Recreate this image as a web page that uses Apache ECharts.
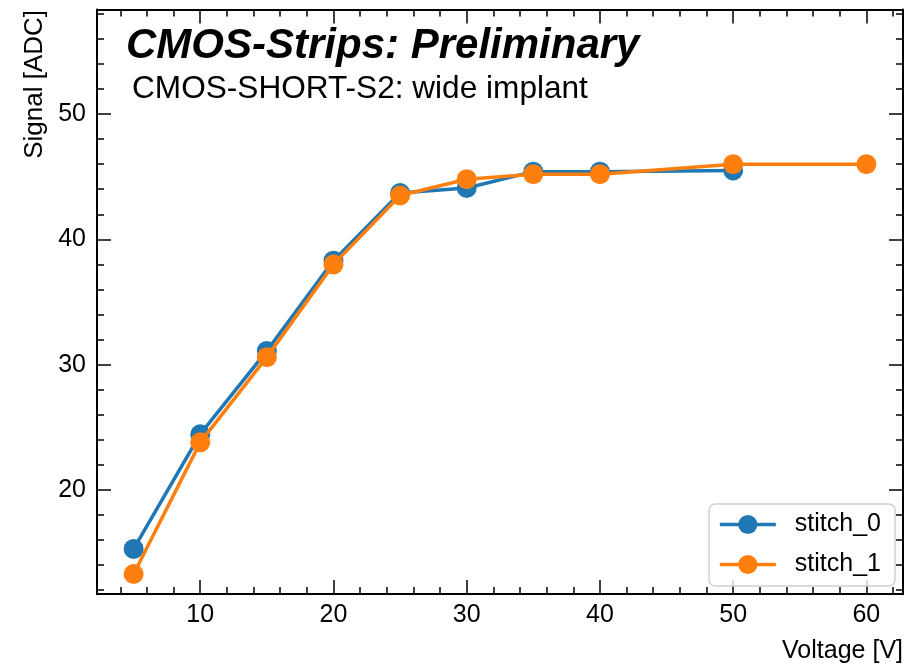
<!DOCTYPE html>
<html>
<head>
<meta charset="utf-8">
<script src="https://cdn.jsdelivr.net/npm/echarts@6/dist/echarts.min.js"></script>
<style>
html,body{margin:0;padding:0;background:#fff;}
#chart{width:914px;height:665px;}
</style>
</head>
<body>
<div id="chart"></div>
<script>
// ---- data ----
var voltages0 = [5, 10, 15, 20, 25, 30, 35, 40, 50];
var stitch0 = [15.3, 24.45, 31.1, 38.3, 43.7, 44.1, 45.4, 45.4, 45.5];
var voltages1 = [5, 10, 15, 20, 25, 30, 35, 40, 50, 60];
var stitch1 = [13.3, 23.8, 30.6, 38.0, 43.5, 44.8, 45.2, 45.2, 46.0, 46.0];
var seriesNames = ['stitch_0', 'stitch_1'];
var titleText = 'CMOS-Strips: Preliminary';
var subtitleText = 'CMOS-SHORT-S2: wide implant';
var xTitle = 'Voltage [V]';
var yTitle = 'Signal [ADC]';

var FONT = '"Liberation Sans", Arial, Helvetica, sans-serif';
var xMin = 2.25, xMax = 62.75, yMin = 11.7, yMax = 58.34;

function pairs(xs, ys) { return xs.map(function (x, i) { return [x, ys[i]]; }); }

function mkX(pos, major, withLabel) {
  return {
    type: 'value', position: pos, min: xMin, max: xMax,
    minInterval: major ? 10 : 2, maxInterval: major ? 10 : 2,
    splitNumber: major ? 6 : 30,
    axisLine: { show: major, onZero: false, lineStyle: { color: '#000', width: 2 } },
    axisTick: { show: true, inside: true, length: major ? 14 : 7, lineStyle: { color: '#000', width: 1.5 } },
    axisLabel: { show: withLabel, color: '#000', fontSize: 25, fontFamily: FONT, margin: 9,
                 showMinLabel: false, showMaxLabel: false },
    splitLine: { show: false }
  };
}
function mkY(pos, major, withLabel) {
  return {
    type: 'value', position: pos, min: yMin, max: yMax,
    minInterval: major ? 10 : 2, maxInterval: major ? 10 : 2,
    splitNumber: major ? 5 : 24,
    axisLine: { show: major, onZero: false, lineStyle: { color: '#000', width: 2 } },
    axisTick: { show: true, inside: true, length: major ? 14 : 7, lineStyle: { color: '#000', width: 1.5 } },
    axisLabel: { show: withLabel, color: '#000', fontSize: 25, fontFamily: FONT, margin: 11,
                 showMinLabel: false, showMaxLabel: false },
    splitLine: { show: false }
  };
}

var chart = echarts.init(document.getElementById('chart'), null, { renderer: 'canvas' });
chart.setOption({
  animation: false,
  backgroundColor: '#fff',
  grid: { left: 97, right: 11, top: 9.5, bottom: 71, containLabel: false },
  xAxis: [mkX('bottom', true, true), mkX('bottom', false, false), mkX('top', true, false), mkX('top', false, false)],
  yAxis: [mkY('left', true, true), mkY('left', false, false), mkY('right', true, false), mkY('right', false, false)],
  title: [
    { text: titleText, left: 126, top: 25, padding: 0,
      textStyle: { fontSize: 42, fontWeight: 'bold', fontStyle: 'italic', color: '#000', fontFamily: FONT } },
    { text: subtitleText, left: 132, top: 73, padding: 0,
      textStyle: { fontSize: 31.6, fontWeight: 'normal', color: '#000', fontFamily: FONT } }
  ],
  legend: {
    orient: 'vertical', right: 19, bottom: 79,
    padding: [8, 14, 9, 9],
    itemGap: 15, itemWidth: 56, itemHeight: 24,
    backgroundColor: 'rgba(255,255,255,0.8)', borderColor: '#d0d0d0', borderWidth: 1.5, borderRadius: 6,
    lineStyle: { width: 3.5 },
    textStyle: { fontSize: 25, color: '#000', fontFamily: FONT, padding: [0, 0, 0, 14] },
    data: seriesNames
  },
  graphic: [
    { type: 'text', right: 11, top: 639,
      style: { text: xTitle, font: '25px ' + FONT, fill: '#000' } },
    { type: 'text', left: 22, top: 10, rotation: Math.PI / 2,
      style: { text: yTitle, font: '26px ' + FONT, fill: '#000' } }
  ],
  series: [
    { name: seriesNames[0], type: 'line', xAxisIndex: 0, yAxisIndex: 0,
      data: pairs(voltages0, stitch0), symbol: 'circle', symbolSize: 20,
      lineStyle: { color: '#1f77b4', width: 3.5 }, itemStyle: { color: '#1f77b4' }, z: 3 },
    { name: seriesNames[1], type: 'line', xAxisIndex: 0, yAxisIndex: 0,
      data: pairs(voltages1, stitch1), symbol: 'circle', symbolSize: 20,
      lineStyle: { color: '#ff7f0e', width: 3.5 }, itemStyle: { color: '#ff7f0e' }, z: 4 }
  ]
});
</script>
</body>
</html>
